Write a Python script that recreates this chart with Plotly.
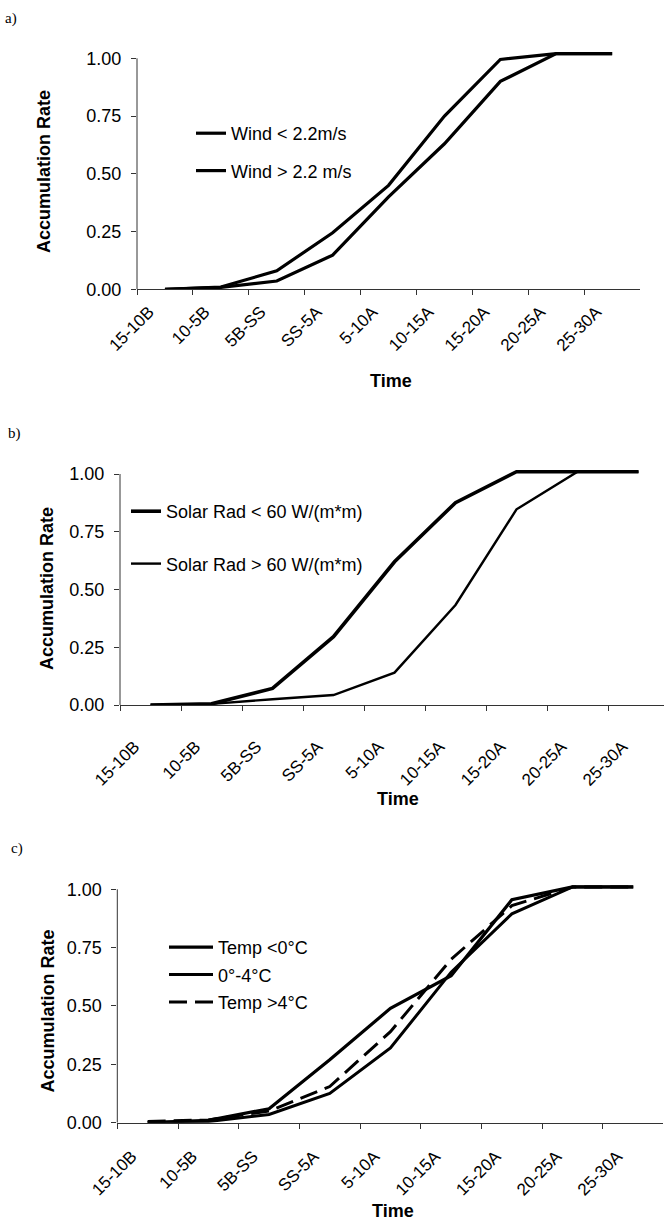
import plotly.graph_objects as go

# ---------------- data ----------------
categories = ["15-10B", "10-5B", "5B-SS", "SS-5A", "5-10A", "10-15A", "15-20A", "20-25A", "25-30A"]

wind_low = [0.0, 0.01, 0.08, 0.245, 0.45, 0.75, 0.995, 1.02, 1.02]
wind_high = [0.0, 0.008, 0.036, 0.148, 0.40, 0.63, 0.90, 1.02, 1.02]

solar_low = [0.0, 0.005, 0.072, 0.296, 0.62, 0.876, 1.01, 1.01, 1.01]
solar_high = [0.0, 0.005, 0.025, 0.043, 0.14, 0.433, 0.847, 1.01, 1.01]

temp_cold = [0.0, 0.01, 0.06, 0.27, 0.49, 0.63, 0.955, 1.01, 1.01]
temp_mid = [0.0, 0.005, 0.035, 0.125, 0.32, 0.645, 0.895, 1.01, 1.01]
temp_warm = [0.005, 0.012, 0.05, 0.155, 0.39, 0.70, 0.93, 1.01, 1.01]

y_ticks = [0, 0.25, 0.5, 0.75, 1.0]
panel_labels = ["a)", "b)", "c)"]

# ---------------- layout helpers (pixel geometry) ----------------
W, H = 664, 1221
YMAX = 1.03
SANS = "Liberation Sans, Arial, sans-serif"
SERIF = "Liberation Serif, Times New Roman, serif"


def fx(p):
    return p / W


def fy(p):
    return 1 - p / H


panels = [
    dict(x0=137, x1=640, yzero=289.3, unit=231, cat_w=55.9,
         ytitle=(44, 172), xtitle=(391, 381), tag=(3, 18),
         legend=(191, 115), gap=11, xstand=5, itemw=30),
    dict(x0=120, x1=664, yzero=705, unit=231, cat_w=61,
         ytitle=(47, 589), xtitle=(397.5, 799), tag=(6, 433),
         legend=(126, 493), gap=26, xstand=24, itemw=30),
    dict(x0=117.3, x1=663.3, yzero=1122.7, unit=233.4, cat_w=60.7,
         ytitle=(47.5, 1011), xtitle=(392.5, 1211), tag=(9, 848),
         legend=(164, 929), gap=1, xstand=16, itemw=44),
]

fig = go.Figure()

series = [
    [("Wind < 2.2m/s", wind_low, 3.2, "solid"), ("Wind > 2.2 m/s", wind_high, 3.2, "solid")],
    [("Solar Rad < 60 W/(m*m)", solar_low, 3.6, "solid"), ("Solar Rad > 60 W/(m*m)", solar_high, 2.4, "solid")],
    [("Temp <0°C", temp_cold, 3.2, "solid"), ("0°-4°C", temp_mid, 3.0, "solid"), ("Temp >4°C", temp_warm, 3.0, "18px,8px")],
]

legend_names = ["legend", "legend2", "legend3"]
shapes = []
annotations = []

for i, (p, ser) in enumerate(zip(panels, series)):
    n = "" if i == 0 else str(i + 1)
    xa, ya = "x" + n, "y" + n
    for j, (name, vals, wdt, dash) in enumerate(ser):
        fig.add_trace(go.Scatter(
            x=categories, y=vals, mode="lines", name=name,
            line=dict(color="#000000", width=wdt, dash=dash),
            xaxis=xa, yaxis=ya, legend=legend_names[i],
            legendgroup=f"g{i}_{j}", showlegend=True,
        ))
    ncat = (p["x1"] - p["x0"]) / p["cat_w"]
    ytop = p["yzero"] - YMAX * p["unit"]
    fig.update_layout(**{
        "xaxis" + n: dict(
            domain=[fx(p["x0"]), fx(p["x1"])], anchor=ya, type="category",
            range=[-0.5, -0.5 + ncat], tickson="boundaries", ticks="outside",
            ticklen=5, tickwidth=1, tickcolor="#333", showline=True,
            linecolor="#333", linewidth=1, showgrid=False, zeroline=False,
            tickangle=-45, tickfont=dict(family=SANS, size=17, color="#000"),
            ticklabelstandoff=p["xstand"], ticklabelshift=-16, automargin=False,
        ),
        "yaxis" + n: dict(
            domain=[fy(p["yzero"]), fy(ytop)], anchor=xa, range=[0, YMAX],
            tickvals=y_ticks, tickformat=".2f", ticks="outside", ticklen=5,
            tickwidth=1, tickcolor="#333", showline=False, showgrid=False,
            zeroline=False, tickfont=dict(family=SANS, size=18, color="#000"),
            ticklabelstandoff=6, automargin=False,
        ),
        legend_names[i]: dict(
            x=fx(p["legend"][0]), y=fy(p["legend"][1]), xanchor="left", yanchor="top",
            bgcolor="rgba(0,0,0,0)", borderwidth=0, traceorder="grouped",
            tracegroupgap=p["gap"], itemwidth=p["itemw"],
            font=dict(family=SANS, size=18, color="#000"),
        ),
    })
    shapes.append(dict(type="line", xref=xa + " domain", yref=ya, x0=0, x1=0, y0=0, y1=1,
                       line=dict(color="#333", width=1)))
    annotations.append(dict(text="Accumulation Rate", textangle=-90, xref="paper", yref="paper",
                            x=fx(p["ytitle"][0]), y=fy(p["ytitle"][1]), xanchor="center",
                            yanchor="middle", showarrow=False,
                            font=dict(family=SANS, size=18, color="#000", weight="bold")))
    annotations.append(dict(text="Time", xref="paper", yref="paper",
                            x=fx(p["xtitle"][0]), y=fy(p["xtitle"][1]), xanchor="center",
                            yanchor="middle", showarrow=False,
                            font=dict(family=SANS, size=18, color="#000", weight="bold")))
    annotations.append(dict(text=panel_labels[i], xref="paper", yref="paper",
                            x=fx(p["tag"][0]), y=fy(p["tag"][1]), xanchor="left",
                            yanchor="middle", showarrow=False,
                            font=dict(family=SERIF, size=15, color="#000")))

fig.update_layout(
    width=W, height=H, autosize=False,
    margin=dict(l=0, r=0, t=0, b=0, autoexpand=False),
    paper_bgcolor="white", plot_bgcolor="white",
    shapes=shapes, annotations=annotations,
)

fig.write_html("out.html")
